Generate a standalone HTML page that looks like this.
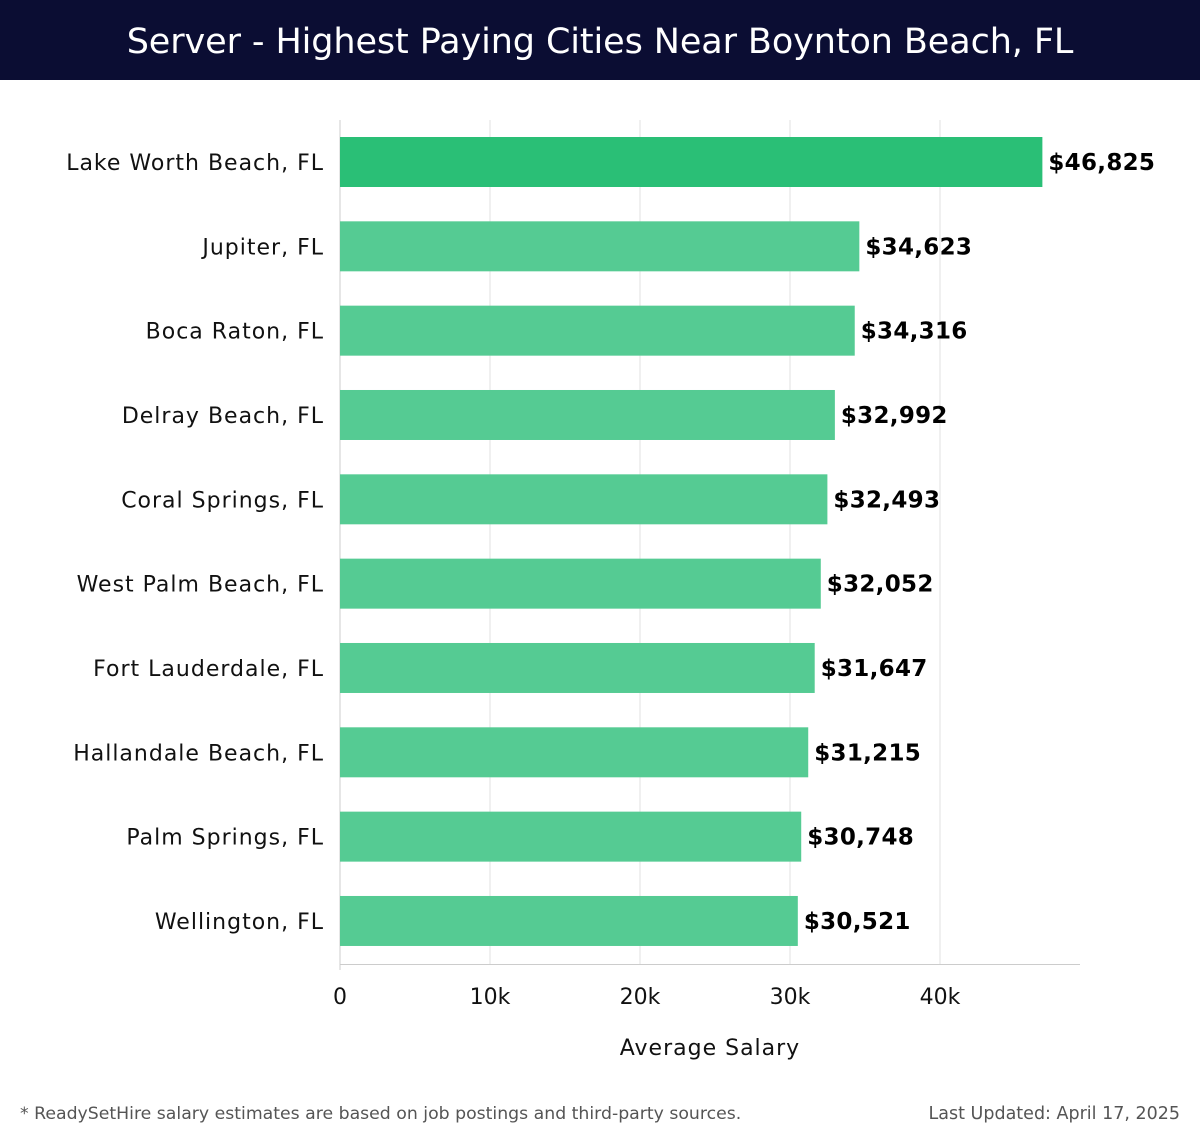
<!DOCTYPE html>
<html><head><meta charset="utf-8"><style>
body{margin:0;width:1200px;height:1140px;background:#fff;overflow:hidden;font-family:"DejaVu Sans","Liberation Sans",sans-serif}
#hdr{position:absolute;left:0;top:0;width:1200px;height:80px;background:#0b0d33;color:#fff;font-size:35px;text-align:center;line-height:84px;font-family:"DejaVu Sans",sans-serif;letter-spacing:-0.1px}
</style></head><body>
<div id="hdr">Server - Highest Paying Cities Near Boynton Beach, FL</div>
<svg id="c" width="1200" height="1140" style="position:absolute;left:0;top:0"></svg>
<script>
const cities=["Lake Worth Beach, FL","Jupiter, FL","Boca Raton, FL","Delray Beach, FL","Coral Springs, FL","West Palm Beach, FL","Fort Lauderdale, FL","Hallandale Beach, FL","Palm Springs, FL","Wellington, FL"];
const salaries=[46825,34623,34316,32992,32493,32052,31647,31215,30748,30521];
const ticks=[0,10000,20000,30000,40000];
const tickLabels=["0","10k","20k","30k","40k"];
const svg=document.getElementById('c');const NS="http://www.w3.org/2000/svg";
function x(v){return 340+v*0.015;}
function yc(i){return 162+i*84.33;}
function mk(t,a,txt){const e=document.createElementNS(NS,t);for(const k in a)e.setAttribute(k,a[k]);if(txt!==undefined)e.textContent=txt;svg.appendChild(e);return e;}
ticks.forEach((t,i)=>{
 if(i>0){const g=mk('line',{x1:x(t),x2:x(t),y1:120,y2:964,stroke:'#e2e2e2','stroke-width':1});
 
 }
 const l=mk('text',{x:x(t),y:1004,'text-anchor':'middle','font-size':22,fill:'#111'},tickLabels[i]);
 
 
});
const ya=mk('line',{x1:340,x2:340,y1:120,y2:970,stroke:'#ccc'});


const xa=mk('line',{x1:340,x2:1080,y1:964.5,y2:964.5,stroke:'#ccc'});


cities.forEach((c,i)=>{
 const y=yc(i);
 const b=mk('rect',{x:340,y:y-25,width:x(salaries[i])-340,height:50,fill:i==0?'#2abf76':'#55cb93'});
 
 
 const l=mk('text',{x:324,y:y+8,'text-anchor':'end','font-size':22,'letter-spacing':'1px',fill:'#111'},c);
 
 
 const v=mk('text',{x:x(salaries[i])+6,y:y+8,'font-size':23,'font-weight':'bold','letter-spacing':'0.3px',fill:'#000'},'$'+salaries[i].toLocaleString('en-US'));
 
 
});
const at=mk('text',{x:710,y:1055,'text-anchor':'middle','font-size':22,'letter-spacing':'1px',fill:'#111'},'Average Salary');


const f1=mk('text',{x:20,y:1119,'font-size':17.3,fill:'#555'},'* ReadySetHire salary estimates are based on job postings and third-party sources.');


const f2=mk('text',{x:1180,y:1119,'text-anchor':'end','font-size':17.5,fill:'#555'},'Last Updated: April 17, 2025');


</script>
</body></html>
